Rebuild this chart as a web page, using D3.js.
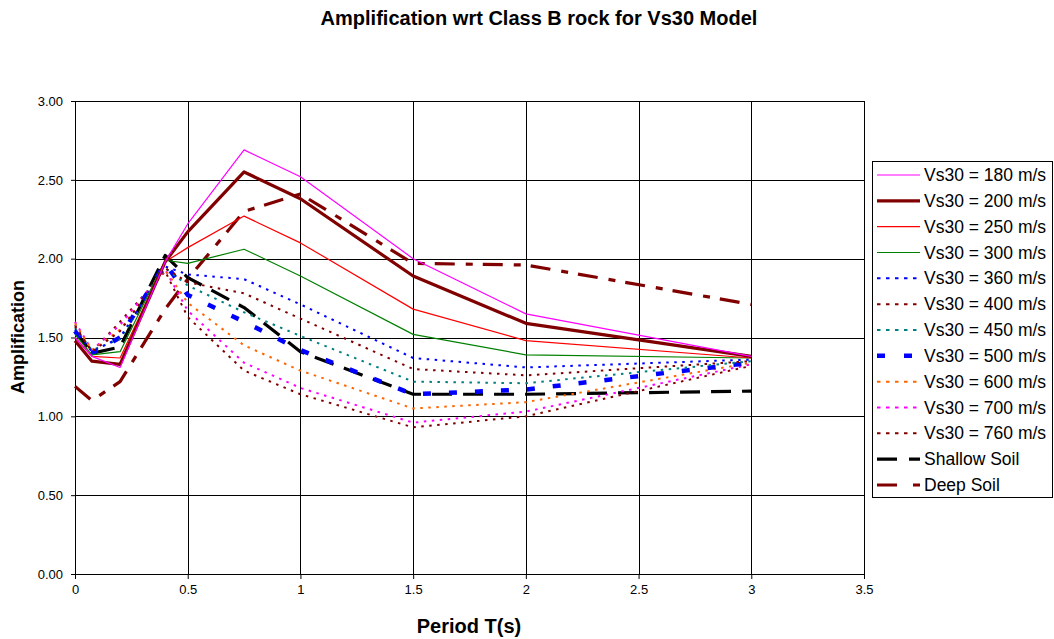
<!DOCTYPE html>
<html><head><meta charset="utf-8">
<script src="https://cdn.jsdelivr.net/npm/d3@7"></script>
<style>body{margin:0;background:#fff;} svg{display:block;font-family:"Liberation Sans",Arial,sans-serif;}</style>
</head><body>
<svg id="c" width="1054" height="639"></svg>
<script>
const periods = [0, 0.075, 0.2, 0.4, 0.5, 0.75, 1, 1.5, 2, 3];
const vs180 = [1.50, 1.38, 1.31, 1.98, 2.22, 2.69, 2.52, 2.00, 1.65, 1.38];
const vs200 = [1.48, 1.35, 1.33, 1.98, 2.17, 2.55, 2.38, 1.89, 1.59, 1.38];
const vs250 = [1.50, 1.38, 1.37, 1.98, 2.07, 2.27, 2.10, 1.68, 1.48, 1.37];
const vs300 = [1.52, 1.39, 1.41, 1.99, 1.97, 2.06, 1.89, 1.52, 1.39, 1.37];
const vs360 = [1.55, 1.41, 1.50, 1.95, 1.90, 1.87, 1.71, 1.37, 1.31, 1.36];
const vs400 = [1.57, 1.41, 1.54, 1.94, 1.85, 1.78, 1.62, 1.30, 1.26, 1.35];
const vs450 = [1.56, 1.42, 1.49, 1.94, 1.83, 1.66, 1.51, 1.22, 1.21, 1.35];
const vs500 = [1.54, 1.40, 1.50, 1.97, 1.77, 1.60, 1.42, 1.14, 1.17, 1.34];
const vs600 = [1.59, 1.42, 1.55, 1.93, 1.72, 1.45, 1.29, 1.05, 1.09, 1.34];
const vs700 = [1.60, 1.42, 1.58, 1.93, 1.67, 1.34, 1.18, 0.96, 1.03, 1.33];
const vs760 = [1.58, 1.41, 1.60, 1.92, 1.63, 1.29, 1.14, 0.93, 1.00, 1.32];
const shallowSoil = [1.54, 1.40, 1.44, 2.02, 1.88, 1.69, 1.41, 1.14, 1.14, 1.16];
const deepSoil = [1.19, 1.10, 1.22, 1.68, 1.87, 2.30, 2.41, 1.97, 1.96, 1.71];

const seriesNames = ["Vs30 = 180 m/s","Vs30 = 200 m/s","Vs30 = 250 m/s","Vs30 = 300 m/s","Vs30 = 360 m/s","Vs30 = 400 m/s","Vs30 = 450 m/s","Vs30 = 500 m/s","Vs30 = 600 m/s","Vs30 = 700 m/s","Vs30 = 760 m/s","Shallow Soil","Deep Soil"];
const seriesValues = [vs180, vs200, vs250, vs300, vs360, vs400, vs450, vs500, vs600, vs700, vs760, shallowSoil, deepSoil];
const xTicks = [0, 0.5, 1, 1.5, 2, 2.5, 3, 3.5];
const yTicks = [0, 0.5, 1, 1.5, 2, 2.5, 3];

const styles = [
  {c:"#FF00FF", w:1.2, d:null},
  {c:"#800000", w:3.2, d:null},
  {c:"#FF0000", w:1.2, d:null},
  {c:"#008000", w:1.2, d:null},
  {c:"#0000FF", w:2, d:"2.5,5.5"},
  {c:"#800000", w:2, d:"2.5,5.5"},
  {c:"#008080", w:2, d:"2.5,5.5"},
  {c:"#0000FF", w:4.5, d:"8,18"},
  {c:"#FF6600", w:2, d:"2.5,5.5"},
  {c:"#FF00FF", w:2, d:"2.5,5.5"},
  {c:"#800000", w:2, d:"2.5,5.5"},
  {c:"#000000", w:3.2, d:"20,11"},
  {c:"#800000", w:3.2, d:"20,11,7,10"}
];

const svg = d3.select("#c");
const L = 75, R = 864, T = 101, B = 574;
const x = d3.scaleLinear().domain([0, 3.5]).range([L, R]);
const y = d3.scaleLinear().domain([0, 3]).range([B, T]);

// gridlines
const g = svg.append("g").attr("shape-rendering","crispEdges");
g.selectAll(".hg").data(yTicks.filter(v=>v>0)).join("line")
  .attr("x1", L).attr("x2", R).attr("y1", d=>Math.round(y(d))+0.5).attr("y2", d=>Math.round(y(d))+0.5)
  .attr("stroke","#000").attr("stroke-width",1);
g.selectAll(".vg").data(xTicks.filter(v=>v>0)).join("line")
  .attr("y1", T).attr("y2", B).attr("x1", d=>Math.round(x(d))+0.5).attr("x2", d=>Math.round(x(d))+0.5)
  .attr("stroke","#000").attr("stroke-width",1);

// axes
const xAxis = d3.axisBottom(x).tickValues(xTicks).tickSize(5).tickPadding(6)
  .tickFormat(d=>d3.format("")(d));
const gx = svg.append("g").attr("transform",`translate(0,${B})`).call(xAxis);
gx.select(".domain").attr("stroke","#000");
gx.selectAll("line").attr("stroke","#000");
gx.selectAll("text").attr("font-size",13).attr("fill","#000").attr("font-family","Liberation Sans, Arial, sans-serif");

const yAxis = d3.axisLeft(y).tickValues(yTicks).tickSize(4).tickPadding(8).tickFormat(d3.format(".2f"));
const gy = svg.append("g").attr("transform",`translate(${L},0)`).call(yAxis);
gy.select(".domain").attr("stroke","#000");
gy.selectAll("line").attr("stroke","#000");
gy.selectAll("text").attr("font-size",13).attr("fill","#000").attr("font-family","Liberation Sans, Arial, sans-serif");

// lines
const line = d3.line().x((d,i)=>x(periods[i])).y(d=>y(d));
const order = [12,11,10,9,8,7,6,5,4,3,2,1,0];
order.forEach(k=>{
  const s = styles[k];
  const p = svg.append("path").datum(seriesValues[k]).attr("d", line)
    .attr("fill","none").attr("stroke", s.c).attr("stroke-width", s.w)
    .attr("stroke-linejoin","round");
  if (s.d) p.attr("stroke-dasharray", s.d);
});

// titles
svg.append("text").attr("x", 539).attr("y", 25).attr("text-anchor","middle")
  .attr("font-size",20).attr("font-weight","bold").text("Amplification wrt Class B rock for Vs30 Model");
svg.append("text").attr("x", 469).attr("y", 633).attr("text-anchor","middle")
  .attr("font-size",20).attr("font-weight","bold").text("Period T(s)");
svg.append("text").attr("transform","translate(24,337) rotate(-90)").attr("text-anchor","middle")
  .attr("font-size",18).attr("font-weight","bold").text("Amplification");

// legend
const lg = svg.append("g");
lg.append("rect").attr("x",872.5).attr("y",161.5).attr("width",180).attr("height",336)
  .attr("fill","#fff").attr("stroke","#000").attr("stroke-width",1);
const ly = d3.scalePoint().domain(seriesNames).range([175, 485]);
seriesNames.forEach((n,k)=>{
  const s = styles[k];
  const yy = ly(n);
  const l = lg.append("line").attr("x1",877).attr("x2",920).attr("y1",yy).attr("y2",yy)
    .attr("stroke",s.c).attr("stroke-width",s.w);
  if (s.d) l.attr("stroke-dasharray", k===11 ? "20,12" : k===12 ? "20,16,7,10" : k===7 ? "8,19" : "3.5,5.5");
  lg.append("text").attr("x",924).attr("y",yy+6).attr("font-size",17.5).text(n);
});
</script>
</body></html>
